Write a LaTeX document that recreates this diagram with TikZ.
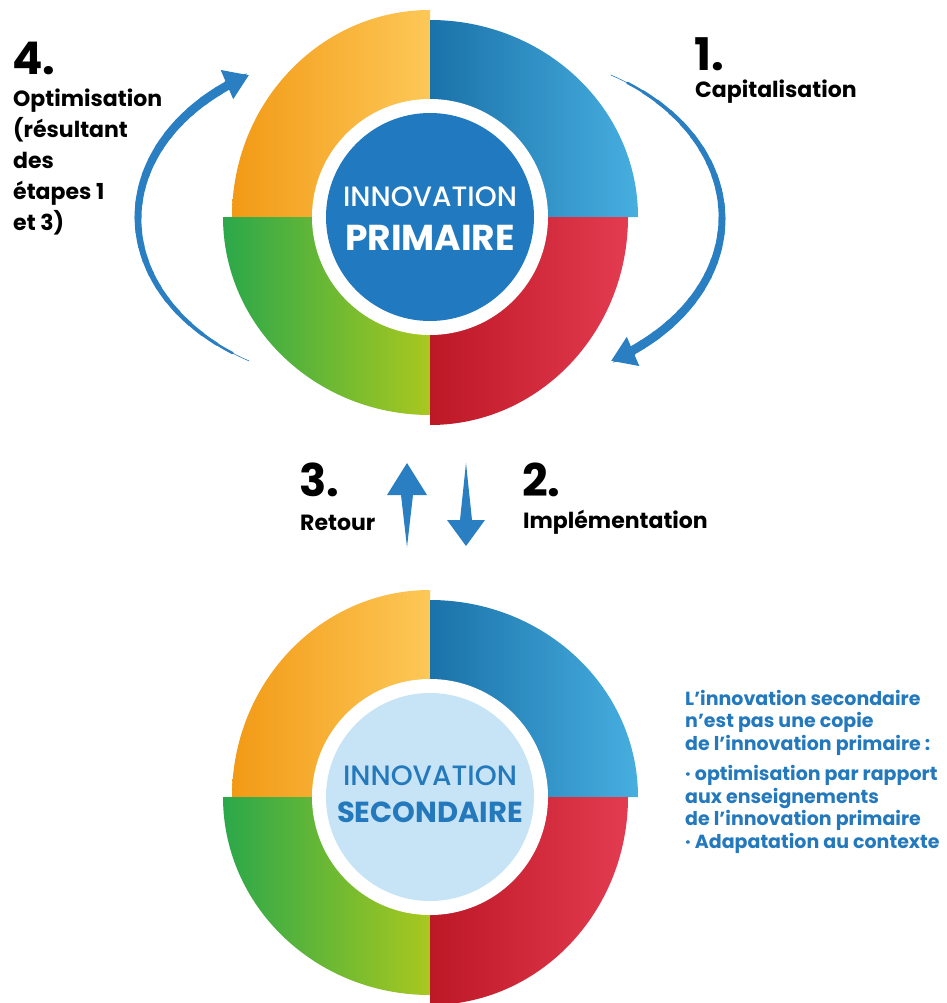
\documentclass[tikz,border=0pt]{standalone}
\usepackage{fontspec}
\setmainfont{Poppins}
\newfontfamily\moyen{Poppins Medium}
\usetikzlibrary{arrows.meta}

\definecolor{orangeA}{HTML}{F29A16}
\definecolor{orangeB}{HTML}{FDC857}
\definecolor{bleuA}{HTML}{1A72A9}
\definecolor{bleuB}{HTML}{47AEE0}
\definecolor{vertA}{HTML}{2BA84A}
\definecolor{vertB}{HTML}{A9C81F}
\definecolor{rougeA}{HTML}{BD1826}
\definecolor{rougeB}{HTML}{E33B50}
\definecolor{centreA}{HTML}{2179BF}
\definecolor{centreB}{HTML}{C7E4F6}
\definecolor{flecheblue}{HTML}{2A7EC2}
\definecolor{texteblue}{HTML}{2479BD}

\begin{document}
\begin{tikzpicture}[x=1pt,y=1pt,
	num/.style={anchor=base west, inner sep=0, font=\fontsize{45}{45}\selectfont\bfseries},
	etape/.style={anchor=base west, inner sep=0, font=\fontsize{22}{31}\selectfont\bfseries},
	fleche/.style={draw=flecheblue, line cap=round},
	disque/.style={circle, inner sep=0, minimum size=208}]
	\useasboundingbox (0,0) rectangle (946,-1003);

	\coordinate (ca) at (430,-217);
	\coordinate (cb) at (430,-797);
	\coordinate (cg) at (360,-218);
	\coordinate (cd) at (500,-218);

	% les deux roues
	\foreach \c in {ca,cb} {
		\shade[left color=orangeA, right color=orangeB] (\c) -- ++(0,207) arc[start angle=90, end angle=180, x radius=198, y radius=207] -- cycle;
		\shade[left color=bleuA, right color=bleuB] (\c) -- ++(208,0) arc[start angle=0, end angle=90, x radius=208, y radius=197] -- cycle;
		\shade[left color=vertA, right color=vertB] (\c) -- ++(-207,0) arc[start angle=180, end angle=270, x radius=207, y radius=198] -- cycle;
		\shade[left color=rougeA, right color=rougeB] (\c) -- ++(0,-208) arc[start angle=270, end angle=360, x radius=198, y radius=208] -- cycle;
		\fill[white] (\c) circle (118);
	}
	\node[disque, fill=centreA] (prim) at (ca) {};
	\node[disque, fill=centreB] (sec) at (cb) {};
	\node[anchor=base, text=white, font=\fontsize{28}{28}\moyen] (primA) at ([yshift=10]prim.center) {INNOVATION};
	\node[anchor=base, text=white, font=\fontsize{36}{36}\selectfont\bfseries] (primB) at ([yshift=-33]prim.center) {PRIMAIRE};
	\node[anchor=base, text=texteblue, font=\fontsize{28}{28}\moyen] (secA) at ([yshift=12]sec.center) {INNOVATION};
	\node[anchor=base, text=texteblue, font=\fontsize{29}{29}\selectfont\bfseries] (secB) at ([yshift=-25]sec.center) {SECONDAIRE};

	% fleche 4 (gauche), de plus en plus epaisse
	\foreach \t in {0,...,21}
		\draw[fleche, line width={0.6+8.4*sqrt(\t/21)}] (cg) ++({240-5*\t}:222 and 165) arc[start angle={240-5*\t}, delta angle=-5.5, x radius=222, y radius=165];
	\draw[fleche, line width=9, -{Triangle[length=24,width=30]}] (cg) ++(130:222 and 165) arc[start angle=130, end angle=120, x radius=222, y radius=165];
	% fleche 1 (droite)
	\foreach \t in {0,...,21}
		\draw[fleche, line width={0.6+8.4*sqrt(\t/21)}] (cd) ++({60-5*\t}:222 and 165) arc[start angle={60-5*\t}, delta angle=-5.5, x radius=222, y radius=165];
	\draw[fleche, line width=9, -{Triangle[length=24,width=30]}] (cd) ++(-50:222 and 165) arc[start angle=-50, end angle=-60, x radius=222, y radius=165];

	% fleches 3 et 2 entre les roues
	\fill[flecheblue] (407,-547) -- (401,-495) -- (387,-495) -- (407,-463) -- (427,-495) -- (413,-495) -- cycle;
	\fill[flecheblue] (466,-463) -- (472,-520) -- (485,-520) -- (466,-546) -- (447,-520) -- (460,-520) -- cycle;

	% etapes
	\node[num] (n4) at (12,-75) {4.};
	\node[anchor=north west, inner sep=0, align=left, font=\fontsize{22}{31}\selectfont\bfseries] (t4) at (13,-89) {Optimisation\\(résultant\\des\\étapes 1\\et 3)};
	\node[num] (n1) at (694,-71) {1.};
	\node[etape] (t1) at (695,-98) {Capitalisation};
	\node[num] (n3) at (299,-496) {3.};
	\node[etape] (t3) at (300,-530) {Retour};
	\node[num] (n2) at (522,-496) {2.};
	\node[etape] (t2) at (523,-528) {Implémentation};

	% texte explicatif
	\node[anchor=north west, inner sep=0, align=left, text=texteblue, font=\fontsize{19}{22.5}\selectfont\bfseries] (note) at (685,-690) {L’innovation secondaire\\n’est pas une copie\\de l’innovation primaire :\\[8]· optimisation par rapport\\aux enseignements\\de l’innovation primaire\\· Adapatation au contexte};
\end{tikzpicture}
\end{document}
